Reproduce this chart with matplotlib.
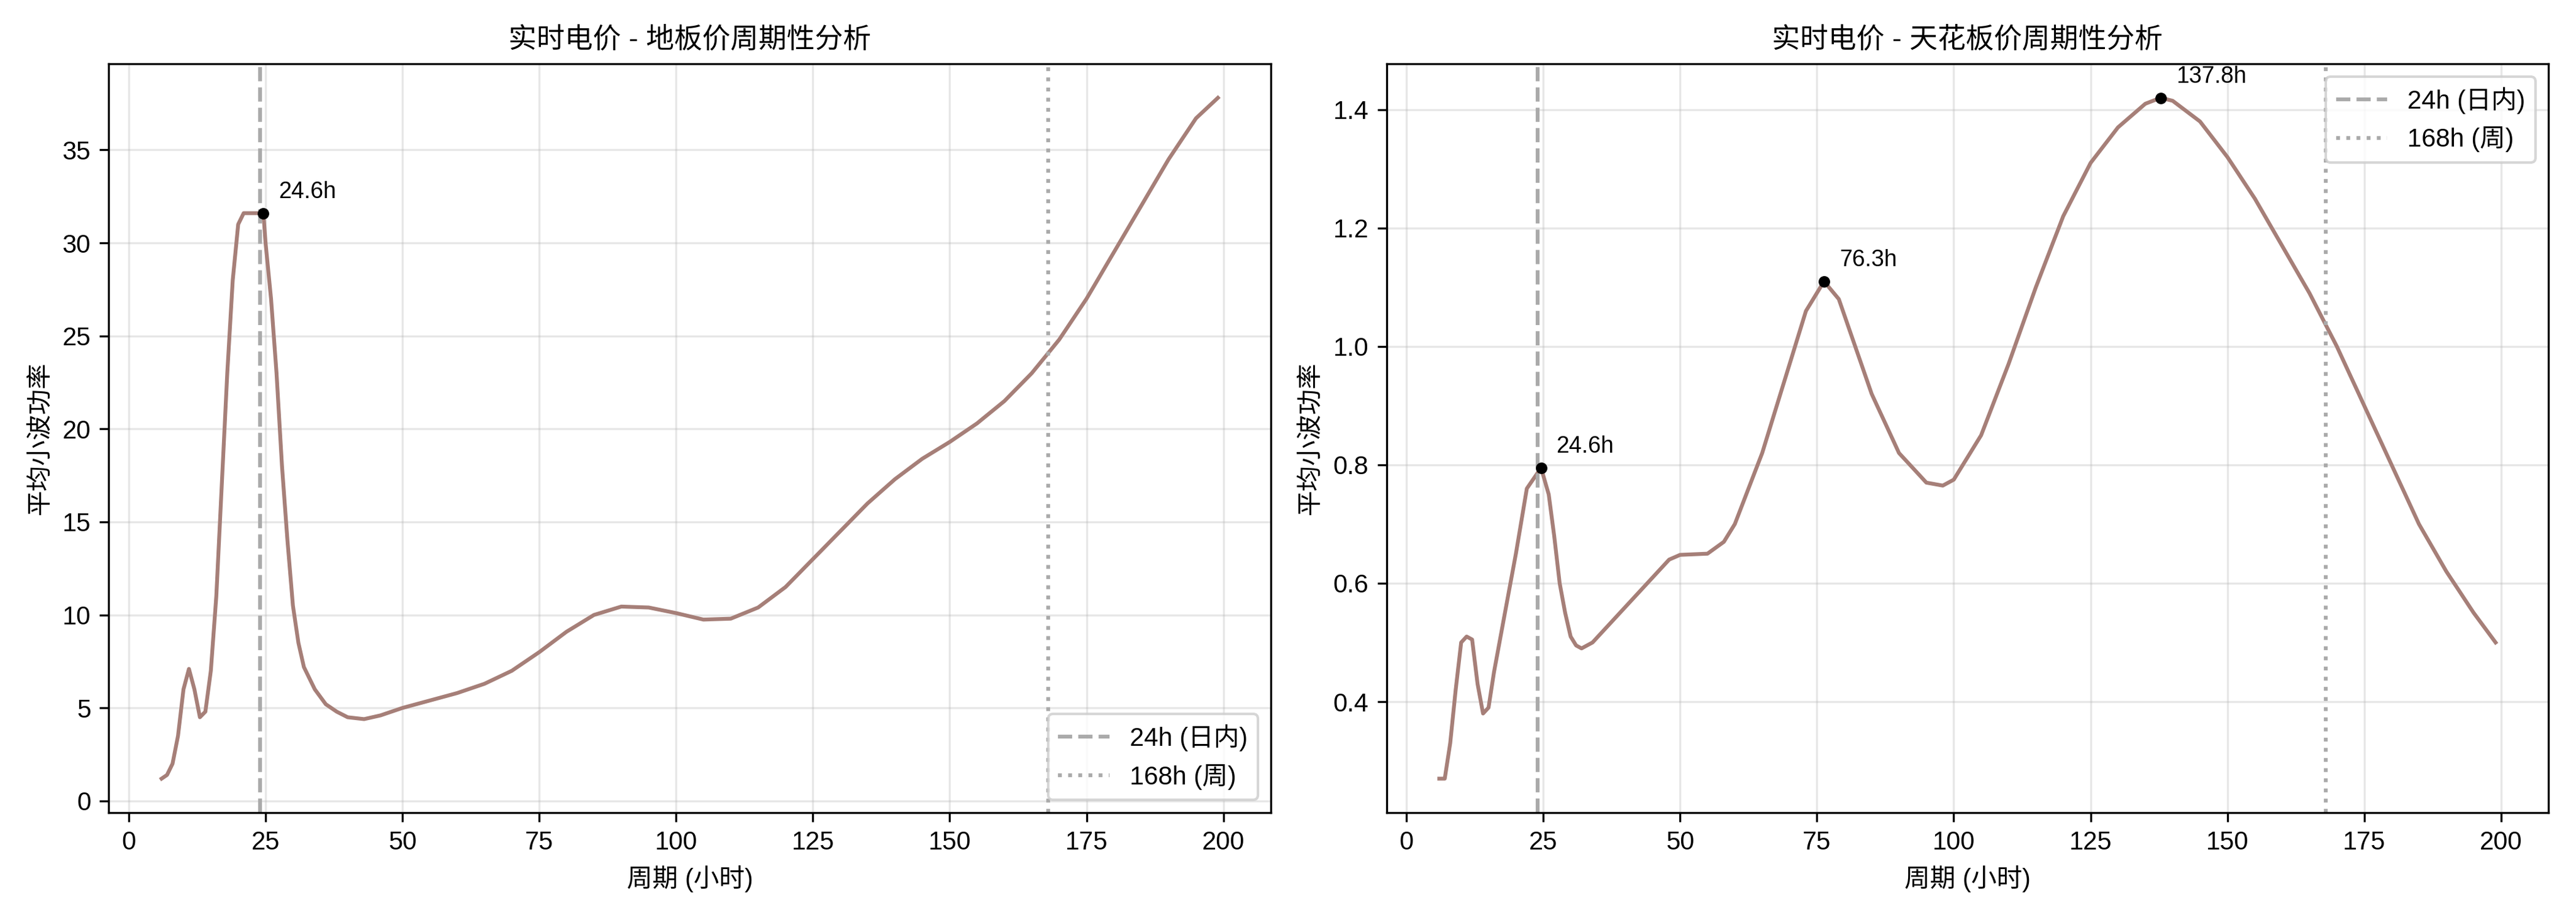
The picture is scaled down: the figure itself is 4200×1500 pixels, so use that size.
import matplotlib
matplotlib.use("Agg")
import matplotlib.pyplot as plt

plt.rcParams["font.family"] = ["Liberation Sans", "Noto Sans CJK SC", "DejaVu Sans"]
plt.rcParams["axes.unicode_minus"] = False

# floor price wavelet power
floor_period = [6, 7, 8, 9, 10, 11, 12, 13, 14, 15, 16, 17, 18, 19, 20, 21, 22, 23, 24.6, 25, 26, 27, 28, 29, 30,
                31, 32, 34, 36, 38, 40, 43, 46, 50, 55, 60, 65, 70, 75, 80, 85, 90, 95, 100, 105, 110, 115,
                120, 125, 130, 135, 140, 145, 150, 155, 160, 165, 170, 175, 180, 185, 190, 195, 199]
floor_power = [1.2, 1.4, 2.0, 3.5, 6.0, 7.1, 6.0, 4.5, 4.8, 7.0, 11.0, 17.0, 23.0, 28.0, 31.0, 31.6, 31.6, 31.6, 31.6,
               30.0, 27.0, 23.0, 18.0, 14.0, 10.5, 8.5, 7.2, 6.0, 5.2, 4.8, 4.5, 4.4, 4.6, 5.0, 5.4, 5.8, 6.3,
               7.0, 8.0, 9.1, 10.0, 10.45, 10.4, 10.1, 9.75, 9.8, 10.4, 11.5, 13.0, 14.5, 16.0, 17.3, 18.4, 19.3,
               20.3, 21.5, 23.0, 24.8, 27.0, 29.5, 32.0, 34.5, 36.7, 37.8]
floor_peaks = [24.6]

# ceiling price wavelet power
ceil_period = [6, 7, 8, 9, 10, 11, 12, 13, 14, 15, 16, 18, 20, 22, 24.6, 26, 27, 28, 29, 30, 31, 32, 34, 36, 40,
               45, 48, 50, 55, 58, 60, 65, 70, 73, 76.3, 79, 82, 85, 90, 95, 98, 100, 105, 110, 115, 120, 125,
               130, 135, 137.8, 140, 145, 150, 155, 160, 165, 170, 175, 180, 185, 190, 195, 199]
ceil_power = [0.27, 0.27, 0.33, 0.42, 0.50, 0.51, 0.505, 0.43, 0.38, 0.39, 0.45, 0.55, 0.65, 0.76, 0.795, 0.75,
              0.68, 0.60, 0.55, 0.51, 0.495, 0.49, 0.50, 0.52, 0.56, 0.61, 0.64, 0.648, 0.65, 0.67, 0.70, 0.82,
              0.97, 1.06, 1.11, 1.08, 1.00, 0.92, 0.82, 0.77, 0.765, 0.775, 0.85, 0.97, 1.10, 1.22, 1.31, 1.37,
              1.41, 1.42, 1.415, 1.38, 1.32, 1.25, 1.17, 1.09, 1.00, 0.90, 0.80, 0.70, 0.62, 0.55, 0.50]
ceil_peaks = [24.6, 76.3, 137.8]

line_color = "#a67f78"

fig, axes = plt.subplots(1, 2, figsize=(14, 5), dpi=300)
panels = [
    (axes[0], floor_period, floor_power, floor_peaks, "实时电价 - 地板价周期性分析", "lower right"),
    (axes[1], ceil_period, ceil_power, ceil_peaks, "实时电价 - 天花板价周期性分析", "upper right"),
]
for ax, per, pw, peaks, title, loc in panels:
    ax.plot(per, pw, color=line_color, lw=1.5)
    ax.axvline(24, color="#aaaaaa", ls="--", lw=1.5, label="24h (日内)")
    ax.axvline(168, color="#aaaaaa", ls=":", lw=1.5, label="168h (周)")
    for p in peaks:
        v = pw[per.index(p)]
        ax.plot(p, v, "o", color="black", ms=3.5, zorder=5)
        ax.annotate(f"{p}h", (p, v), xytext=(6, 6), textcoords="offset points", fontsize=9)
    ax.set_title(title, fontsize=11)
    ax.set_xlabel("周期 (小时)")
    ax.set_ylabel("平均小波功率")
    ax.grid(alpha=0.3)
    ax.legend(loc=loc)
    ax.set_xticks([0, 25, 50, 75, 100, 125, 150, 175, 200])

plt.tight_layout()
plt.savefig("out.png")
